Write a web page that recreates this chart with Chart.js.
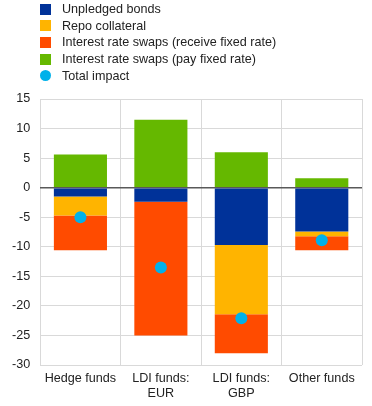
<!DOCTYPE html>
<html>
<head>
<meta charset="utf-8">
<script src="https://cdn.jsdelivr.net/npm/chart.js@4/dist/chart.umd.min.js"></script>
<style>
  html, body { margin: 0; padding: 0; background: #fff; }
  #wrap { position: relative; width: 372px; height: 406px; }
  #legend { position: absolute; left: 40px; top: 1px; font: 12.6px "Liberation Sans", Arial, sans-serif; color: #222; }
  #legend .item { display: flex; align-items: center; height: 16.6px; }
  #legend .sw { width: 11px; height: 11px; margin-right: 11px; }
  #legend .dot { border-radius: 50%; }
</style>
</head>
<body>
<div id="wrap">
  <canvas id="chart" width="372" height="406"></canvas>
  <div id="legend"></div>
</div>
<script>
const CATEGORIES = ["Hedge funds", ["LDI funds:", "EUR"], ["LDI funds:", "GBP"], "Other funds"];
const UNPLEDGED = [-1.5, -2.4, -9.7, -7.4];
const REPO = [-3.2, 0, -11.7, -0.8];
const SWAPS_RECEIVE = [-5.9, -22.6, -6.6, -2.4];
const SWAPS_PAY = [5.6, 11.5, 6.0, 1.6];
const TOTAL = [-5.0, -13.5, -22.1, -8.9];

const COLORS = {
  blue: "#003299",
  yellow: "#ffb400",
  red: "#ff4b00",
  green: "#65b800",
  cyan: "#00b1ea",
};

const FONT = "'Liberation Sans', Arial, sans-serif";

const barSets = [
  { label: "Unpledged bonds", data: UNPLEDGED, color: COLORS.blue },
  { label: "Repo collateral", data: REPO, color: COLORS.yellow },
  { label: "Interest rate swaps (receive fixed rate)", data: SWAPS_RECEIVE, color: COLORS.red },
  { label: "Interest rate swaps (pay fixed rate)", data: SWAPS_PAY, color: COLORS.green },
];

const datasets = [
  {
    type: "line",
    label: "Total impact",
    data: TOTAL,
    showLine: false,
    stack: "total",
    pointRadius: 6,
    pointHoverRadius: 6,
    pointBackgroundColor: COLORS.cyan,
    pointBorderWidth: 0,
    borderColor: COLORS.cyan,
    order: 0,
  },
  ...barSets.map((s) => ({
    type: "bar",
    label: s.label,
    data: s.data,
    backgroundColor: s.color,
    stack: "bars",
    barPercentage: 0.66,
    categoryPercentage: 1,
    order: 1,
  })),
];

const legend = document.getElementById("legend");
legend.innerHTML = barSets
  .map((s) => `<div class="item"><span class="sw" style="background:${s.color}"></span>${s.label}</div>`)
  .join("") +
  `<div class="item"><span class="sw dot" style="background:${COLORS.cyan}"></span>Total impact</div>`;

new Chart(document.getElementById("chart"), {
  data: { labels: CATEGORIES, datasets },
  options: {
    responsive: false,
    animation: false,
    layout: { padding: { top: 99, right: 10, left: 2, bottom: 0 } },
    plugins: { legend: { display: false }, tooltip: { enabled: false } },
    scales: {
      x: {
        stacked: true,
        grid: { color: "#d9d9d9", lineWidth: 1, drawTicks: false, offset: true },
        border: { display: false },
        ticks: { color: "#222", font: { family: FONT, size: 12.6 }, padding: 6, maxRotation: 0 },
        afterFit: (scale) => { scale.height = 41; },
      },
      y: {
        stacked: true,
        min: -30,
        max: 15,
        grid: {
          color: (ctx) => (ctx.tick && ctx.tick.value === 0 ? "#595959" : "#d9d9d9"),
          lineWidth: (ctx) => (ctx.tick && ctx.tick.value === 0 ? 1.5 : 1),
          drawTicks: false,
        },
        border: { display: false },
        ticks: { stepSize: 5, color: "#222", font: { family: FONT, size: 12.6 }, padding: 10 },
      },
    },
  },
});
</script>
</body>
</html>
